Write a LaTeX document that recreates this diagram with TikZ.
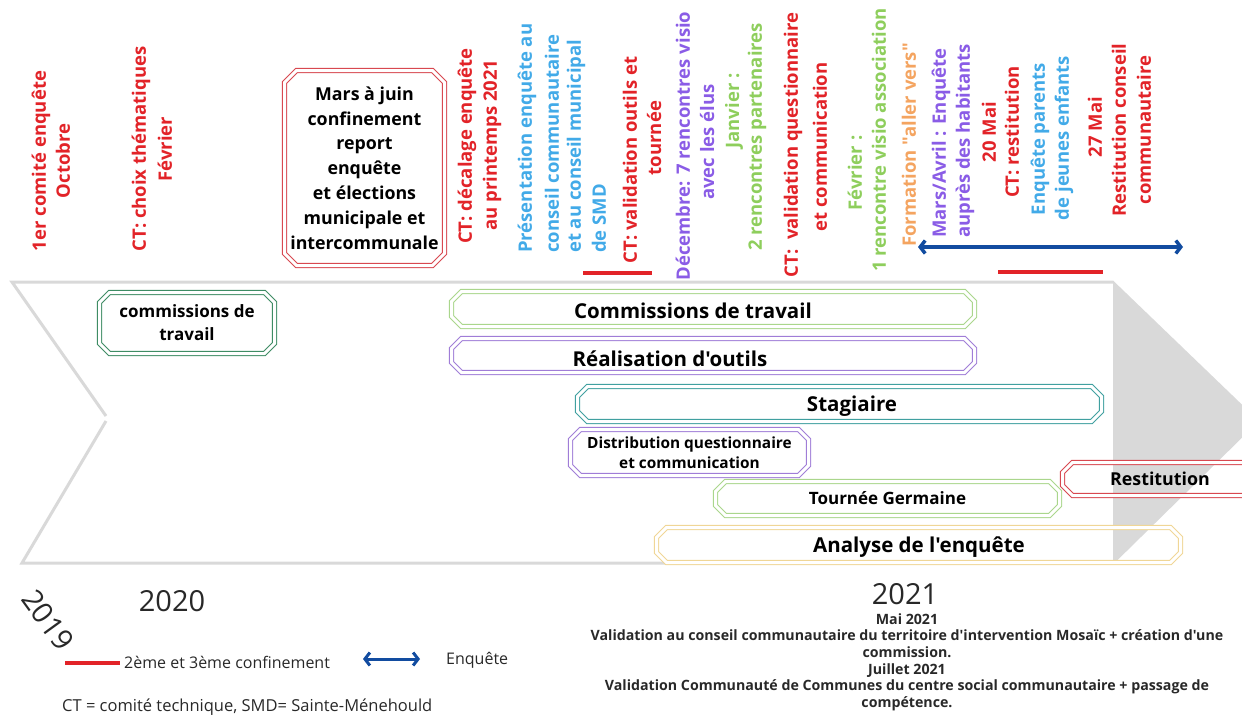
\documentclass[tikz,border=0pt]{standalone}
\usepackage{fontspec}
\setmainfont{Open Sans}[Ligatures=TeXOff]
\usetikzlibrary{arrows.meta}
\definecolor{cred}{RGB}{226,35,40}
\definecolor{cblue}{RGB}{66,170,232}
\definecolor{cpurple}{RGB}{138,92,230}
\definecolor{cgreen}{RGB}{142,206,92}
\definecolor{corange}{RGB}{244,164,96}
\definecolor{cdblue}{RGB}{18,76,160}
\definecolor{cgray}{RGB}{217,217,217}
\definecolor{bdgreen}{RGB}{62,140,100}
\definecolor{blgreen}{RGB}{170,214,140}
\definecolor{bpurple}{RGB}{160,125,215}
\definecolor{bteal}{RGB}{64,160,160}
\definecolor{bbeige}{RGB}{240,214,150}
\definecolor{bred}{RGB}{216,72,80}
\definecolor{ctext}{RGB}{40,40,40}
\newcommand\mylabfont{\fontsize{18.5}{22}\selectfont\bfseries}
% chamfered double outline around a named node: [chamfer]{node}{colour}
\newcommand\mychamf[3][10pt]{%
  \draw[draw=#3, double=white, double distance=3pt, line width=1.1pt, line join=miter]
    ([xshift=#1]#2.north west) -- ([xshift=-#1]#2.north east) --
    ([yshift=-#1]#2.north east) -- ([yshift=#1]#2.south east) --
    ([xshift=-#1]#2.south east) -- ([xshift=#1]#2.south west) --
    ([yshift=#1]#2.south west) -- ([yshift=-#1]#2.north west) -- cycle;}
\tikzset{
  vt/.style={rotate=90, inner sep=0pt, text=#1, font=\mylabfont},
  boxarea/.style={rectangle, inner sep=0pt, outer sep=0pt},
  bartext/.style={inner sep=0pt, font=\fontsize{20.5}{24}\selectfont\bfseries},
  legtext/.style={inner sep=0pt, anchor=west, text=ctext, font=\fontsize{16}{20}\selectfont},
  year/.style={inner sep=0pt, text=ctext, font=\fontsize{29}{34}\selectfont},
  confline/.style={cred, line width=4pt},
  enqarrow/.style={cdblue, line width=3.5pt, {Straight Barb[length=5pt,width=13pt]}-{Straight Barb[length=5pt,width=13pt]}},
  chev/.style={cgray, line width=3pt}
}
\begin{document}
\begin{tikzpicture}[x=1pt,y=-1pt]
\useasboundingbox (0,0) rectangle (1242,726);
\clip (0,0) rectangle (1242,726);
% chevron
\coordinate (tl) at (12,282); \coordinate (tr) at (1113,282);
\coordinate (nt) at (106,416); \coordinate (nb) at (106,421);
\coordinate (bl) at (22,563); \coordinate (br) at (1113,563);
\coordinate (ap) at (1259,421);
\coordinate (gt) at (1113,280.5); \coordinate (gb) at (1113,564.5);
\fill[cgray] (gt) -- (ap) -- (gb) -- cycle;
\draw[chev] (nt) -- (tl) -- (tr);
\draw[chev] (nb) -- (bl) -- (br);

% vertical labels
\node[vt=cred] (l1a) at (41,161) {1er comité enquête};
\node[vt=cred] (l1b) at (63,161) {Octobre};
\node[vt=cred] (l2a) at (141,149) {CT: choix thématiques};
\node[vt=cred] (l2b) at (165,149) {Février};
\node[vt=cred] (l3a) at (467,146) {CT: décalage enquête};
\node[vt=cred] (l3b) at (492,145) {au printemps 2021};
\node[vt=cblue, anchor=west] (l4a) at (527,253) {Présentation enquête au};
\node[vt=cblue, anchor=west] (l4b) at (552,253) {conseil communautaire};
\node[vt=cblue, anchor=west] (l4c) at (576,253) {et au conseil municipal};
\node[vt=cblue, anchor=west] (l4d) at (599,253) {de SMD};
\node[vt=cred] (l5a) at (630,160) {CT: validation outils et};
\node[vt=cred] (l5b) at (654,138) {tournée};
\node[vt=cpurple] (l6a) at (683,146) {Décembre: 7 rencontres visio};
\node[vt=cpurple] (l6b) at (707,142) {avec les élus};
\node[vt=cgreen] (l7a) at (734,111) {Janvier :};
\node[vt=cgreen] (l7b) at (757,137) {2 rencontres partenaires};
\node[vt=cred] (l8a) at (793,145) {CT:\ \ validation questionnaire};
\node[vt=cred] (l8b) at (820,147) {et communication};
\node[vt=cgreen] (l9a) at (855,173) {Février :};
\node[vt=cgreen] (l9b) at (879,140) {1 rencontre visio association};
\node[vt=corange] (l10) at (909,145) {Formation "aller vers"};
\node[vt=cpurple, anchor=west] (l11a) at (941,238) {Mars/Avril : Enquête};
\node[vt=cpurple, anchor=west] (l11b) at (965,238) {auprès des habitants};
\node[vt=cred] (l12a) at (989,132) {20 Mai};
\node[vt=cred] (l12b) at (1012,132) {CT: restitution};
\node[vt=cblue] (l13a) at (1040,139) {Enquête parents};
\node[vt=cblue] (l13b) at (1064,138) {de jeunes enfants};
\node[vt=cred] (l14a) at (1095,127) {27 Mai};
\node[vt=cred] (l14b) at (1119,130) {Restitution conseil};
\node[vt=cred] (l14c) at (1144,130) {communautaire};

% markers above the timeline
\coordinate (c1a) at (583,273); \coordinate (c1b) at (652,273);
\draw[confline] (c1a) -- (c1b);
\coordinate (c2a) at (998,272); \coordinate (c2b) at (1103,272);
\draw[confline] (c2a) -- (c2b);
\coordinate (e1) at (918,247); \coordinate (e2) at (1183,247);
\draw[enqarrow] (e1) -- (e2);

% Mars box
\node[boxarea, minimum width=160pt, minimum height=195pt, align=center,
  font=\fontsize{17.8}{24.8}\selectfont\bfseries] (mars) at (364.5,168)
  {Mars à juin\\confinement\\report\\enquête\\et élections\\municipale et\\intercommunale};
\mychamf[12pt]{mars}{bred}

% bars
\node[boxarea, minimum width=175pt, minimum height=61pt, align=center,
  font=\fontsize{17}{23}\selectfont\bfseries] (cdt1) at (187,323) {commissions de\\travail};
\mychamf{cdt1}{bdgreen}
\node[boxarea, minimum width=523pt, minimum height=35pt] (cdt2) at (713,309) {};
\mychamf{cdt2}{blgreen}
\node[bartext] (cdt2t) at (693,311) {Commissions de travail};
\node[boxarea, minimum width=523pt, minimum height=34pt] (real) at (713,355.5) {};
\mychamf{real}{bpurple}
\node[bartext] (realt) at (670,359) {Réalisation d'outils};
\node[boxarea, minimum width=524pt, minimum height=35pt] (stag) at (839.5,404) {};
\mychamf{stag}{bteal}
\node[bartext] (stagt) at (852,406) {Stagiaire};
\node[boxarea, minimum width=238pt, minimum height=46pt, align=center,
  font=\fontsize{15.4}{20}\selectfont\bfseries] (dist) at (689.5,452.5) {Distribution questionnaire\\et communication};
\mychamf{dist}{bpurple}
\node[boxarea, minimum width=344pt, minimum height=34pt,
  font=\fontsize{17}{20}\selectfont\bfseries] (tour) at (887.5,498.5) {Tournée Germaine};
\mychamf{tour}{blgreen}
\node[boxarea, minimum width=524pt, minimum height=35pt] (anal) at (918.5,545) {};
\mychamf{anal}{bbeige}
\node[bartext] (analt) at (919,547) {Analyse de l'enquête};
\node[boxarea, minimum width=210pt, minimum height=33pt] (rest) at (1167.5,479) {};
\mychamf{rest}{bred}
\node[inner sep=0pt, font=\fontsize{17.8}{20}\selectfont\bfseries] (restt) at (1160,479) {Restitution};

% years
\node[year] (y2020) at (172,601) {2020};
\node[year] (y2021) at (905,594) {2021};
\node[year, rotate=-54] (y2019) at (48,620) {2019};

% legend
\coordinate (lg1) at (65,663); \coordinate (lg2) at (120,663);
\draw[confline, line width=3.5pt] (lg1) -- (lg2);
\node[legtext] (lgt1) at (124,662) {2ème et 3ème confinement};
\coordinate (lg3) at (363,659); \coordinate (lg4) at (420,659);
\draw[enqarrow, line width=3pt] (lg3) -- (lg4);
\node[legtext] (lgt2) at (446,660) {Enquête};
\node[legtext, font=\fontsize{16.5}{20}\selectfont] (lgt3) at (62,707) {CT = comité technique, SMD= Sainte-Ménehould};

% bottom notes
\node[inner sep=0pt, align=center, text=ctext, font=\fontsize{14.2}{16.6}\selectfont\bfseries] (notes) at (907,662)
 {Mai 2021\\Validation au conseil communautaire du territoire d'intervention Mosaïc + création d'une\\commission.\\Juillet 2021\\Validation Communauté de Communes du centre social communautaire + passage de\\compétence.};
\end{tikzpicture}
\end{document}
